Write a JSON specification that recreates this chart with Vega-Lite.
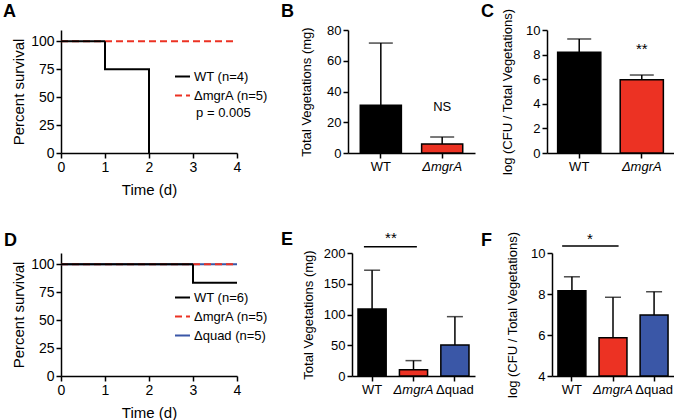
{
  "$schema": "https://vega.github.io/schema/vega-lite/v6.json",
  "padding": {"left": 3, "top": 3, "right": 0, "bottom": 0},
  "config": {
    "font": "Liberation Sans",
    "view": {"stroke": null},
    "axis": {"domainColor": "black", "domainWidth": 1.5, "tickColor": "black", "tickWidth": 1.5, "tickSize": 5, "labelColor": "black", "labelFontSize": 13, "titleFontSize": 13, "titleFontWeight": "normal", "titleColor": "black", "grid": false, "labelPadding": 2, "labelOverlap": false, "labelBound": false},
    "axisX": {"labelFontStyle": {"condition": {"test": "datum.value === 'ΔmgrA'", "value": "italic"}, "value": "normal"}},
    "title": {"fontSize": 18, "fontWeight": "bold", "anchor": "start", "frame": "group", "color": "black"},
    "legend": {"padding": 6, "labelFontSize": 13, "labelColor": "black", "symbolType": "stroke", "symbolSize": 225, "symbolStrokeWidth": 2, "labelOffset": 3, "rowPadding": 3}
  },
  "datasets": {
    "survA": [
      {"t": 0, "s": 100, "group": "ΔmgrA (n=5)"}, {"t": 4, "s": 100, "group": "ΔmgrA (n=5)"},
      {"t": 0, "s": 100, "group": "WT (n=4)"}, {"t": 1, "s": 75, "group": "WT (n=4)"}, {"t": 2, "s": 0, "group": "WT (n=4)"}
    ],
    "survD": [
      {"t": 0, "s": 100, "group": "Δquad (n=5)"}, {"t": 4, "s": 100, "group": "Δquad (n=5)"},
      {"t": 0, "s": 100, "group": "ΔmgrA (n=5)"}, {"t": 4, "s": 100, "group": "ΔmgrA (n=5)"},
      {"t": 0, "s": 100, "group": "WT (n=6)"}, {"t": 3, "s": 83.3, "group": "WT (n=6)"}, {"t": 4, "s": 83.3, "group": "WT (n=6)"}
    ],
    "vegB": [{"g": "WT", "mean": 31, "upper": 71.5}, {"g": "ΔmgrA", "mean": 5.9, "upper": 10.4}],
    "cfuC": [{"g": "WT", "mean": 8.2, "upper": 9.27}, {"g": "ΔmgrA", "mean": 5.95, "upper": 6.34}],
    "vegE": [{"g": "WT", "mean": 109, "upper": 172}, {"g": "ΔmgrA", "mean": 10.3, "upper": 25}, {"g": "Δquad", "mean": 50.5, "upper": 96.5}],
    "cfuF": [{"g": "WT", "mean": 8.16, "upper": 8.84}, {"g": "ΔmgrA", "mean": 5.87, "upper": 7.84}, {"g": "Δquad", "mean": 6.98, "upper": 8.11}]
  },
  "spacing": 34,
  "resolve": {"scale": {"color": "independent", "strokeDash": "independent"}, "legend": {"color": "independent", "strokeDash": "independent"}},
  "vconcat": [
    {
      "spacing": 6,
      "resolve": {"scale": {"color": "independent", "strokeDash": "independent"}, "legend": {"color": "independent", "strokeDash": "independent"}},
      "hconcat": [
        {
          "width": 176, "height": 123,
          "title": {"text": "A", "dx": -58, "dy": -5},
          "encoding": {
            "x": {"field": "t", "type": "quantitative", "scale": {"domain": [0, 4], "nice": false}, "axis": {"values": [0, 1, 2, 3, 4], "title": "Time (d)", "labelFontSize": 14, "titleFontSize": 15, "titlePadding": 8, "labelFlush": false}},
            "y": {"field": "s", "type": "quantitative", "scale": {"domain": [0, 110], "nice": false}, "axis": {"values": [0, 25, 50, 75, 100], "title": "Percent survival", "labelFontSize": 14, "titleFontSize": 15, "titlePadding": 4, "labelOverlap": false}}
          },
          "layer": [
            {
              "data": {"name": "survA"},
              "transform": [{"filter": "datum.group === 'ΔmgrA (n=5)'"}],
              "mark": {"type": "line", "interpolate": "step-after", "strokeWidth": 2},
              "encoding": {
                "color": {"field": "group", "type": "nominal", "scale": {"domain": ["WT (n=4)", "ΔmgrA (n=5)"], "range": ["#000000", "#EC3223"]}, "legend": {"title": null, "orient": "none", "legendX": 107, "legendY": 32}},
                "strokeDash": {"field": "group", "type": "nominal", "scale": {"domain": ["WT (n=4)", "ΔmgrA (n=5)"], "range": [[1, 0], [7, 4]]}, "legend": {"title": null, "orient": "none", "legendX": 107, "legendY": 32}}
              }
            },
            {
              "data": {"name": "survA"},
              "transform": [{"filter": "datum.group === 'WT (n=4)'"}],
              "mark": {"type": "line", "interpolate": "step-after", "strokeWidth": 2},
              "encoding": {
                "color": {"field": "group", "type": "nominal", "scale": {"domain": ["WT (n=4)", "ΔmgrA (n=5)"], "range": ["#000000", "#EC3223"]}, "legend": {"title": null, "orient": "none", "legendX": 107, "legendY": 32}},
                "strokeDash": {"field": "group", "type": "nominal", "scale": {"domain": ["WT (n=4)", "ΔmgrA (n=5)"], "range": [[1, 0], [7, 4]]}, "legend": {"title": null, "orient": "none", "legendX": 107, "legendY": 32}}
              }
            },
            {
              "data": {"values": [{"t": 3.07, "s": 35.7, "label": "p = 0.005"}]},
              "mark": {"type": "text", "align": "left", "baseline": "middle", "fontSize": 13, "color": "black"},
              "encoding": {"text": {"field": "label"}}
            }
          ]
        },
        {
          "width": 127, "height": 123,
          "title": {"text": "B", "dx": -67, "dy": 1},
          "data": {"name": "vegB"},
          "encoding": {
            "x": {"field": "g", "type": "nominal", "sort": null, "scale": {"paddingInner": 0.33, "paddingOuter": 0.2}, "axis": {"title": null, "labelAngle": 0}}
          },
          "layer": [
            {"mark": {"type": "rule", "strokeWidth": 1.5, "color": "black"}, "encoding": {"y": {"field": "mean", "type": "quantitative", "scale": {"domain": [0, 80], "nice": false}, "axis": {"values": [0, 20, 40, 60, 80], "title": "Total Vegetations (mg)", "titlePadding": 13, "labelOverlap": false}}, "y2": {"field": "upper"}}},
            {"mark": {"type": "tick", "orient": "horizontal", "size": 24, "thickness": 1.5, "color": "black"}, "encoding": {"y": {"field": "upper", "type": "quantitative", "scale": {"domain": [0, 80], "nice": false}, "axis": {"values": [0, 20, 40, 60, 80], "title": "Total Vegetations (mg)", "titlePadding": 13, "labelOverlap": false}}}},
            {"mark": {"type": "bar", "stroke": "black", "strokeWidth": 1.5}, "encoding": {"y": {"field": "mean", "type": "quantitative", "scale": {"domain": [0, 80], "nice": false}, "axis": {"values": [0, 20, 40, 60, 80], "title": "Total Vegetations (mg)", "titlePadding": 13, "labelOverlap": false}}, "fill": {"field": "g", "type": "nominal", "scale": {"domain": ["WT", "ΔmgrA", "Δquad"], "range": ["#000000", "#EC3223", "#3A57A7"]}, "legend": null}}},
            {"data": {"values": [{"g": "ΔmgrA", "mean": 30, "label": "NS"}]}, "mark": {"type": "text", "baseline": "middle", "fontSize": 13, "color": "black"}, "encoding": {"y": {"field": "mean", "type": "quantitative", "scale": {"domain": [0, 80], "nice": false}, "axis": {"values": [0, 20, 40, 60, 80], "title": "Total Vegetations (mg)", "titlePadding": 13, "labelOverlap": false}}, "text": {"field": "label"}}}
          ]
        },
        {
          "width": 127, "height": 123,
          "title": {"text": "C", "dx": -66, "dy": 17},
          "data": {"name": "cfuC"},
          "encoding": {
            "x": {"field": "g", "type": "nominal", "sort": null, "scale": {"paddingInner": 0.31, "paddingOuter": 0.17}, "axis": {"title": null, "labelAngle": 0}}
          },
          "layer": [
            {"mark": {"type": "rule", "strokeWidth": 1.5, "color": "black"}, "encoding": {"y": {"field": "mean", "type": "quantitative", "scale": {"domain": [0, 10], "nice": false}, "axis": {"values": [0, 2, 4, 6, 8, 10], "title": "log (CFU / Total Vegetations)", "titlePadding": 11}}, "y2": {"field": "upper"}}},
            {"mark": {"type": "tick", "orient": "horizontal", "size": 24, "thickness": 1.5, "color": "black"}, "encoding": {"y": {"field": "upper", "type": "quantitative", "scale": {"domain": [0, 10], "nice": false}, "axis": {"values": [0, 2, 4, 6, 8, 10], "title": "log (CFU / Total Vegetations)", "titlePadding": 11}}}},
            {"mark": {"type": "bar", "stroke": "black", "strokeWidth": 1.5}, "encoding": {"y": {"field": "mean", "type": "quantitative", "scale": {"domain": [0, 10], "nice": false}, "axis": {"values": [0, 2, 4, 6, 8, 10], "title": "log (CFU / Total Vegetations)", "titlePadding": 11}}, "fill": {"field": "g", "type": "nominal", "scale": {"domain": ["WT", "ΔmgrA", "Δquad"], "range": ["#000000", "#EC3223", "#3A57A7"]}, "legend": null}}},
            {"data": {"values": [{"g": "ΔmgrA", "mean": 8.05, "label": "**"}]}, "mark": {"type": "text", "baseline": "alphabetic", "fontSize": 15, "color": "black"}, "encoding": {"y": {"field": "mean", "type": "quantitative", "scale": {"domain": [0, 10], "nice": false}, "axis": {"values": [0, 2, 4, 6, 8, 10], "title": "log (CFU / Total Vegetations)", "titlePadding": 11}}, "text": {"field": "label"}}}
          ]
        }
      ]
    },
    {
      "spacing": 6,
      "resolve": {"scale": {"color": "independent", "strokeDash": "independent"}, "legend": {"color": "independent", "strokeDash": "independent"}},
      "hconcat": [
        {
          "width": 176, "height": 123,
          "title": {"text": "D", "dx": -57, "dy": 1},
          "encoding": {
            "x": {"field": "t", "type": "quantitative", "scale": {"domain": [0, 4], "nice": false}, "axis": {"values": [0, 1, 2, 3, 4], "title": "Time (d)", "labelFontSize": 14, "titleFontSize": 15, "titlePadding": 8, "labelFlush": false}},
            "y": {"field": "s", "type": "quantitative", "scale": {"domain": [0, 110], "nice": false}, "axis": {"values": [0, 25, 50, 75, 100], "title": "Percent survival", "labelFontSize": 14, "titleFontSize": 15, "titlePadding": 4, "labelOverlap": false}}
          },
          "layer": [
            {
              "data": {"name": "survD"},
              "transform": [{"filter": "datum.group === 'Δquad (n=5)'"}],
              "mark": {"type": "line", "interpolate": "step-after", "strokeWidth": 2},
              "encoding": {
                "color": {"field": "group", "type": "nominal", "scale": {"domain": ["WT (n=6)", "ΔmgrA (n=5)", "Δquad (n=5)"], "range": ["#000000", "#EC3223", "#3A57A7"]}, "legend": {"title": null, "orient": "none", "legendX": 107, "legendY": 30}},
                "strokeDash": {"field": "group", "type": "nominal", "scale": {"domain": ["WT (n=6)", "ΔmgrA (n=5)", "Δquad (n=5)"], "range": [[1, 0], [7, 4], [1, 0]]}, "legend": {"title": null, "orient": "none", "legendX": 107, "legendY": 30}}
              }
            },
            {
              "data": {"name": "survD"},
              "transform": [{"filter": "datum.group === 'ΔmgrA (n=5)'"}],
              "mark": {"type": "line", "interpolate": "step-after", "strokeWidth": 2},
              "encoding": {
                "color": {"field": "group", "type": "nominal", "scale": {"domain": ["WT (n=6)", "ΔmgrA (n=5)", "Δquad (n=5)"], "range": ["#000000", "#EC3223", "#3A57A7"]}, "legend": {"title": null, "orient": "none", "legendX": 107, "legendY": 30}},
                "strokeDash": {"field": "group", "type": "nominal", "scale": {"domain": ["WT (n=6)", "ΔmgrA (n=5)", "Δquad (n=5)"], "range": [[1, 0], [7, 4], [1, 0]]}, "legend": {"title": null, "orient": "none", "legendX": 107, "legendY": 30}}
              }
            },
            {
              "data": {"name": "survD"},
              "transform": [{"filter": "datum.group === 'WT (n=6)'"}],
              "mark": {"type": "line", "interpolate": "step-after", "strokeWidth": 2},
              "encoding": {
                "color": {"field": "group", "type": "nominal", "scale": {"domain": ["WT (n=6)", "ΔmgrA (n=5)", "Δquad (n=5)"], "range": ["#000000", "#EC3223", "#3A57A7"]}, "legend": {"title": null, "orient": "none", "legendX": 107, "legendY": 30}},
                "strokeDash": {"field": "group", "type": "nominal", "scale": {"domain": ["WT (n=6)", "ΔmgrA (n=5)", "Δquad (n=5)"], "range": [[1, 0], [7, 4], [1, 0]]}, "legend": {"title": null, "orient": "none", "legendX": 107, "legendY": 30}}
              }
            }
          ]
        },
        {
          "width": 123, "height": 123,
          "title": {"text": "E", "dx": -71, "dy": 22},
          "data": {"name": "vegE"},
          "encoding": {
            "x": {"field": "g", "type": "nominal", "sort": null, "scale": {"paddingInner": 0.32, "paddingOuter": 0.145}, "axis": {"title": null, "labelAngle": 0}}
          },
          "layer": [
            {"mark": {"type": "rule", "strokeWidth": 1.5, "color": "black"}, "encoding": {"y": {"field": "mean", "type": "quantitative", "scale": {"domain": [0, 200], "nice": false}, "axis": {"values": [0, 50, 100, 150, 200], "title": "Total Vegetations (mg)", "titlePadding": 8, "labelOverlap": false}}, "y2": {"field": "upper"}}},
            {"mark": {"type": "tick", "orient": "horizontal", "size": 16, "thickness": 1.5, "color": "black"}, "encoding": {"y": {"field": "upper", "type": "quantitative", "scale": {"domain": [0, 200], "nice": false}, "axis": {"values": [0, 50, 100, 150, 200], "title": "Total Vegetations (mg)", "titlePadding": 8, "labelOverlap": false}}}},
            {"mark": {"type": "bar", "stroke": "black", "strokeWidth": 1.5}, "encoding": {"y": {"field": "mean", "type": "quantitative", "scale": {"domain": [0, 200], "nice": false}, "axis": {"values": [0, 50, 100, 150, 200], "title": "Total Vegetations (mg)", "titlePadding": 8, "labelOverlap": false}}, "fill": {"field": "g", "type": "nominal", "scale": {"domain": ["WT", "ΔmgrA", "Δquad"], "range": ["#000000", "#EC3223", "#3A57A7"]}, "legend": null}}},
            {"data": {"values": [{"g": "WT", "g2": "ΔmgrA", "mean": 210}]}, "mark": {"type": "rule", "strokeWidth": 1.5, "color": "black"}, "encoding": {"x": {"field": "g", "type": "nominal", "bandPosition": 0.21}, "x2": {"field": "g2", "bandPosition": 0.62}, "y": {"field": "mean", "type": "quantitative", "scale": {"domain": [0, 200], "nice": false}, "axis": {"values": [0, 50, 100, 150, 200], "title": "Total Vegetations (mg)", "titlePadding": 8, "labelOverlap": false}}}},
            {"data": {"values": [{"g": "WT", "mean": 216, "label": "**"}]}, "mark": {"type": "text", "baseline": "alphabetic", "fontSize": 15, "color": "black"}, "encoding": {"x": {"field": "g", "type": "nominal", "bandPosition": 1.17}, "y": {"field": "mean", "type": "quantitative", "scale": {"domain": [0, 200], "nice": false}, "axis": {"values": [0, 50, 100, 150, 200], "title": "Total Vegetations (mg)", "titlePadding": 8, "labelOverlap": false}}, "text": {"field": "label"}}}
          ]
        },
        {
          "width": 122, "height": 123,
          "title": {"text": "F", "dx": -71, "dy": 23},
          "data": {"name": "cfuF"},
          "encoding": {
            "x": {"field": "g", "type": "nominal", "sort": null, "scale": {"paddingInner": 0.32, "paddingOuter": 0.145}, "axis": {"title": null, "labelAngle": 0}}
          },
          "layer": [
            {"mark": {"type": "rule", "strokeWidth": 1.5, "color": "black"}, "encoding": {"y": {"field": "mean", "type": "quantitative", "scale": {"domain": [4, 10], "nice": false, "zero": false}, "axis": {"values": [4, 6, 8, 10], "title": "log (CFU / Total Vegetations)", "titlePadding": 11}}, "y2": {"field": "upper"}}},
            {"mark": {"type": "tick", "orient": "horizontal", "size": 16, "thickness": 1.5, "color": "black"}, "encoding": {"y": {"field": "upper", "type": "quantitative", "scale": {"domain": [4, 10], "nice": false, "zero": false}, "axis": {"values": [4, 6, 8, 10], "title": "log (CFU / Total Vegetations)", "titlePadding": 11}}}},
            {"mark": {"type": "bar", "stroke": "black", "strokeWidth": 1.5}, "encoding": {"y": {"field": "mean", "type": "quantitative", "scale": {"domain": [4, 10], "nice": false, "zero": false}, "axis": {"values": [4, 6, 8, 10], "title": "log (CFU / Total Vegetations)", "titlePadding": 11}}, "y2": {"datum": 4}, "fill": {"field": "g", "type": "nominal", "scale": {"domain": ["WT", "ΔmgrA", "Δquad"], "range": ["#000000", "#EC3223", "#3A57A7"]}, "legend": null}}},
            {"data": {"values": [{"g": "WT", "g2": "ΔmgrA", "mean": 10.34}]}, "mark": {"type": "rule", "strokeWidth": 1.5, "color": "black"}, "encoding": {"x": {"field": "g", "type": "nominal", "bandPosition": 0.15}, "x2": {"field": "g2", "bandPosition": 0.7}, "y": {"field": "mean", "type": "quantitative", "scale": {"domain": [4, 10], "nice": false, "zero": false}, "axis": {"values": [4, 6, 8, 10], "title": "log (CFU / Total Vegetations)", "titlePadding": 11}}}},
            {"data": {"values": [{"g": "WT", "mean": 10.44, "label": "*"}]}, "mark": {"type": "text", "baseline": "alphabetic", "fontSize": 15, "color": "black"}, "encoding": {"x": {"field": "g", "type": "nominal", "bandPosition": 1.14}, "y": {"field": "mean", "type": "quantitative", "scale": {"domain": [4, 10], "nice": false, "zero": false}, "axis": {"values": [4, 6, 8, 10], "title": "log (CFU / Total Vegetations)", "titlePadding": 11}}, "text": {"field": "label"}}}
          ]
        }
      ]
    }
  ]
}
